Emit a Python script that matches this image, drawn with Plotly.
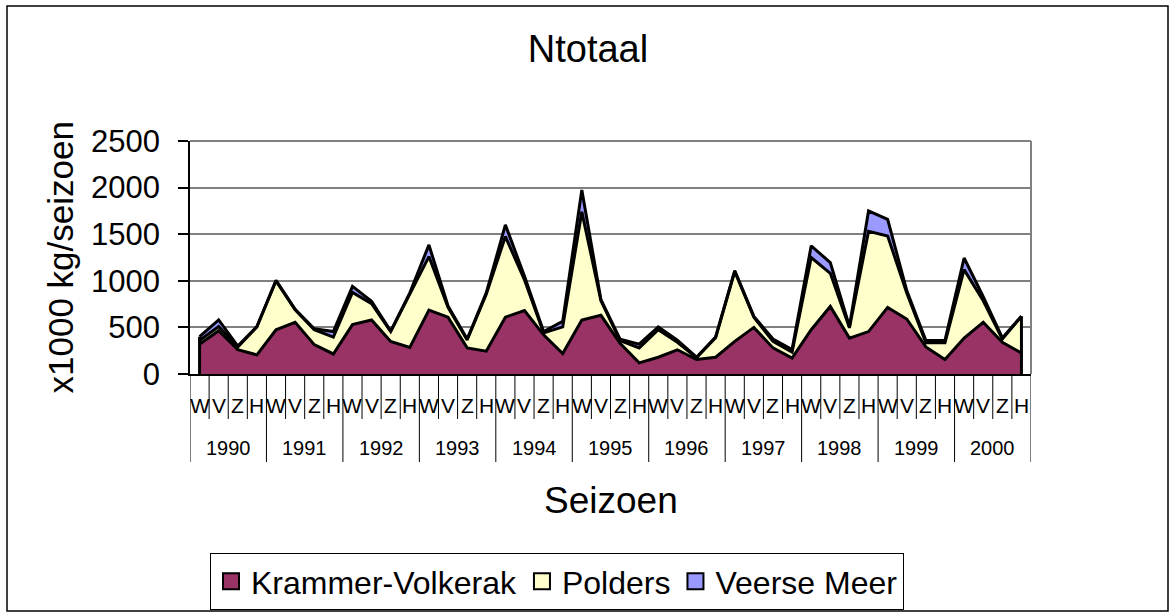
import plotly.graph_objects as go

# ---- data ----
years = ["1990", "1991", "1992", "1993", "1994", "1995", "1996", "1997", "1998", "1999", "2000"]
seasons = ["W", "V", "Z", "H"]

krammer_volkerak = [320, 465, 260, 205, 475, 555, 315, 215, 530, 580, 350, 285,
                    685, 610, 280, 245, 610, 680, 420, 220, 580, 630, 330, 120,
                    180, 260, 155, 180, 350, 500, 280, 170, 475, 725, 385, 455,
                    715, 590, 290, 155, 385, 555, 340, 225]
polders = [40, 45, 30, 300, 525, 135, 160, 180, 345, 175, 105, 580,
           575, 105, 85, 610, 865, 330, 20, 285, 1160, 155, 30, 160,
           295, 80, 20, 210, 750, 110, 70, 65, 775, 355, 110, 1075,
           765, 280, 45, 180, 735, 230, 35, 395]
veerse_meer = [40, 70, 10, 5, 5, 5, 10, 60, 65, 25, 5, 5,
               125, 15, 10, 15, 125, 40, 15, 60, 235, 12, 13, 40,
               30, 22, 5, 7, 10, 8, 25, 27, 125, 115, 15, 220,
               180, 25, 25, 25, 125, 45, 12, 0]

series = [("Krammer-Volkerak", krammer_volkerak, "#993366"),
          ("Polders", polders, "#FFFFCC"),
          ("Veerse Meer", veerse_meer, "#9999FF")]

n = len(krammer_volkerak)
xs = list(range(n))
season_labels = [seasons[i % 4] for i in xs]
totals = [a + b + c for a, b, c in zip(krammer_volkerak, polders, veerse_meer)]

FONT = "Arial, Liberation Sans, sans-serif"

fig = go.Figure()
for name, vals, col in series:
    fig.add_trace(go.Scatter(
        x=xs, y=vals, stackgroup="one", mode="lines", name=name,
        line=dict(color="black", width=3), fillcolor=col, showlegend=False,
        hoverinfo="skip"))

# vertical border edges of the area at first/last category
fig.add_trace(go.Scatter(x=[xs[0], xs[0]], y=[0, totals[0]], mode="lines",
                         line=dict(color="black", width=3), showlegend=False, hoverinfo="skip"))
fig.add_trace(go.Scatter(x=[xs[-1], xs[-1]], y=[0, totals[-1]], mode="lines",
                         line=dict(color="black", width=3), showlegend=False, hoverinfo="skip"))

# legend entries (square swatches)
for name, vals, col in series:
    fig.add_trace(go.Scatter(
        x=[None], y=[None], mode="markers", name=name,
        marker=dict(symbol="square", size=16, color=col, line=dict(color="black", width=2))))

# ---- layout geometry ----
PLOT_H = 233.0
PLOT_W = 841.0
season_div = -45 / PLOT_H
year_div = -88 / PLOT_H

shapes = []
for b in range(n + 1):
    ybot = year_div if b % 4 == 0 else season_div
    shapes.append(dict(type="line", xref="x", yref="paper", x0=b - 0.5, x1=b - 0.5,
                       y0=0, y1=ybot, line=dict(color="black", width=1)))
# plot area border (top/right gray)
shapes.append(dict(type="line", xref="paper", yref="paper", x0=0, x1=1, y0=1, y1=1,
                   line=dict(color="#808080", width=2)))
shapes.append(dict(type="line", xref="paper", yref="paper", x0=1, x1=1, y0=0, y1=1,
                   line=dict(color="#808080", width=2)))
# outer chart border
shapes.append(dict(type="rect", xref="paper", yref="paper",
                   x0=(7 - 190) / PLOT_W, x1=(1168 - 190) / PLOT_W,
                   y0=(374 - 611) / PLOT_H, y1=(374 - 6) / PLOT_H,
                   line=dict(color="black", width=1.5), fillcolor="rgba(0,0,0,0)"))

annotations = []
for i in xs:
    annotations.append(dict(x=i, y=0, xref="x", yref="paper", text=season_labels[i],
                            showarrow=False, yshift=-31, yanchor="middle",
                            font=dict(family=FONT, size=21, color="black")))
for k, yr in enumerate(years):
    annotations.append(dict(x=4 * k + 1.5, y=0, xref="x", yref="paper", text=yr,
                            showarrow=False, yshift=-74, yanchor="middle",
                            font=dict(family=FONT, size=20, color="black")))
annotations.append(dict(x=(611 - 190) / PLOT_W, y=-126 / PLOT_H, xref="paper", yref="paper",
                        text="Seizoen", showarrow=False, xanchor="center", yanchor="middle",
                        font=dict(family=FONT, size=37, color="black")))
annotations.append(dict(x=(60 - 190) / PLOT_W, y=0.5, xref="paper", yref="paper",
                        text="x1000 kg/seizoen", showarrow=False, textangle=-90,
                        xanchor="center", yanchor="middle",
                        font=dict(family=FONT, size=35, color="black")))

fig.update_layout(
    width=1170, height=613,
    margin=dict(l=190, r=139, t=141, b=239),
    paper_bgcolor="white", plot_bgcolor="white",
    font=dict(family=FONT, color="black"),
    title=dict(text="Ntotaal", x=588 / 1170, xanchor="center", y=1 - 49 / 613, yanchor="middle",
               font=dict(family=FONT, size=38, color="black")),
    xaxis=dict(range=[-0.5, n - 0.5], showticklabels=False, ticks="", showgrid=False,
               zeroline=False, showline=True, linecolor="black", linewidth=1.5, fixedrange=True),
    yaxis=dict(range=[0, 2500], dtick=500, tick0=0, showgrid=True, gridcolor="#808080",
               gridwidth=1.5, zeroline=False, showline=True, linecolor="black", linewidth=1.5,
               ticks="outside", ticklen=10, tickcolor="black", tickwidth=1.5,
               ticklabelstandoff=12, tickfont=dict(family=FONT, size=31, color="black")),
    legend=dict(orientation="h", xref="container", yref="container",
                x=210 / 1170, xanchor="left", y=1 - 553 / 613, yanchor="top",
                traceorder="normal",
                bordercolor="black", borderwidth=1, bgcolor="white",
                font=dict(family=FONT, size=32, color="black"),
                itemsizing="trace", tracegroupgap=0),
    shapes=shapes, annotations=annotations,
)

fig.write_html("out.html", config={"displayModeBar": False},
               post_script="document.body.style.margin='0';document.body.style.overflow='hidden';")
